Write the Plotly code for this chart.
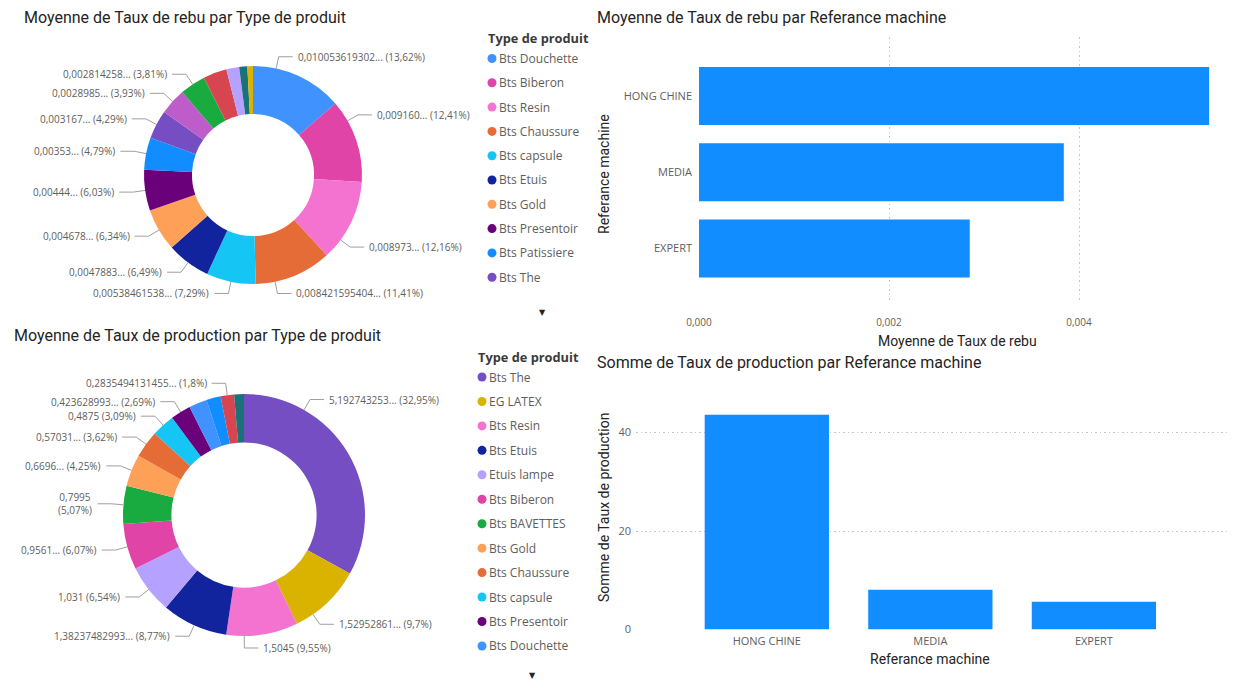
import math
import plotly.graph_objects as go

# the page body keeps its default 8px margin, so the figure is drawn
# 8px in from the top-left corner of the 1245x682 window
OX, OY = 8, 8
W, H = 1245 - OX, 682 - OY

# -------------------------------------------------
# Data
# -------------------------------------------------
# colours are keyed by product type, like the report theme
type_colors = {
    "Bts Douchette": "#4092FF",
    "Bts Biberon": "#E044A7",
    "Bts Resin": "#F472D0",
    "Bts Chaussure": "#E66C37",
    "Bts capsule": "#15C6F4",
    "Bts Etuis": "#12239E",
    "Bts Gold": "#FFA058",
    "Bts Presentoir": "#6B007B",
    "Bts Patissiere": "#118DFF",
    "Bts The": "#744EC2",
    "Autre 1": "#BE5DC9",
    "Bts BAVETTES": "#1AAB40",
    "Autre 2": "#D64550",
    "Etuis lampe": "#B5A1FF",
    "Autre 3": "#197278",
    "EG LATEX": "#D9B300",
}

rebu_types = ["Bts Douchette", "Bts Biberon", "Bts Resin", "Bts Chaussure",
              "Bts capsule", "Bts Etuis", "Bts Gold", "Bts Presentoir",
              "Bts Patissiere", "Bts The", "Autre 1", "Bts BAVETTES",
              "Autre 2", "Etuis lampe", "Autre 3", "EG LATEX"]
rebu_values = [0.010053619302, 0.009160, 0.008973, 0.008421595404,
               0.00538461538, 0.0047883, 0.004678, 0.00444,
               0.00353, 0.003167, 0.0028985, 0.002814258,
               0.002584, 0.001402, 0.000886, 0.000613]
rebu_texts = ["0,010053619302... (13,62%)", "0,009160... (12,41%)",
              "0,008973... (12,16%)", "0,008421595404... (11,41%)",
              "0,00538461538... (7,29%)", "0,0047883... (6,49%)",
              "0,004678... (6,34%)", "0,00444... (6,03%)",
              "0,00353... (4,79%)", "0,003167... (4,29%)",
              "0,0028985... (3,93%)", "0,002814258... (3,81%)",
              "", "", "", ""]

prod_types = ["Bts The", "EG LATEX", "Bts Resin", "Bts Etuis", "Etuis lampe",
              "Bts Biberon", "Bts BAVETTES", "Bts Gold", "Bts Chaussure",
              "Bts capsule", "Bts Presentoir", "Bts Douchette",
              "Bts Patissiere", "Autre 2", "Autre 3"]
prod_values = [5.192743253, 1.52952861, 1.5045, 1.38237482993, 1.031,
               0.9561, 0.7995, 0.6696, 0.57031,
               0.4875, 0.423628993, 0.378,
               0.30, 0.2835494131455, 0.205]
prod_texts = ["5,192743253... (32,95%)", "1,52952861... (9,7%)",
              "1,5045 (9,55%)", "1,38237482993... (8,77%)", "1,031 (6,54%)",
              "0,9561... (6,07%)", "0,7995<br>(5,07%)", "0,6696... (4,25%)",
              "0,57031... (3,62%)", "0,4875 (3,09%)",
              "0,423628993... (2,69%)", "", "",
              "0,2835494131455... (1,8%)", ""]

legend1_shown = 10
legend2_shown = 12

machines = ["HONG CHINE", "MEDIA", "EXPERT"]
rebu_machine = [0.00537, 0.00384, 0.00285]
prod_machine = [43.6, 8.07, 5.63]

BLUE = "#118DFF"
TXT = "#252423"
GREY = "#605E5C"
TITLE_FONT = "Roboto"
BODY_FONT = "Open Sans"


def px(x):
    return (x - OX) / W


def py(y):
    return 1 - (y - OY) / H


fig = go.Figure()
annotations = []
shapes = []


# -------------------------------------------------
# Donuts
# -------------------------------------------------
def add_donut(types, values, texts, cx, cy, R, hole):
    fig.add_trace(go.Pie(
        labels=types, values=values, hole=hole, sort=False,
        direction="clockwise", rotation=0, textinfo="none",
        marker=dict(colors=[type_colors[t] for t in types], line=dict(width=0)),
        domain=dict(x=[px(cx - R), px(cx + R)], y=[py(cy + R), py(cy - R)]),
        showlegend=False,
    ))

    # outside labels with leader lines, placed from the slice angles
    total = sum(values)
    start = 0.0
    for v, t in zip(values, texts):
        span = 360.0 * v / total
        mid = start + span / 2
        if t:
            if mid < 180:
                a = start + span * (0.25 if mid < 90 else 0.75)
            else:
                a = mid
            s, c = math.sin(math.radians(a)), math.cos(math.radians(a))
            x0, y0 = cx + R * s, cy - R * c
            ex, ey = cx + (R + 12) * s, cy - (R + 12) * c
            side = 1 if s >= 0 else -1
            hx = ex + 14 * side
            shapes.append(dict(
                type="path", xref="paper", yref="paper",
                path=f"M {px(x0)} {py(y0)} L {px(ex)} {py(ey)} L {px(hx)} {py(ey)}",
                line=dict(color="#A19F9D", width=1),
            ))
            annotations.append(dict(
                x=px(hx + 3 * side), y=py(ey), xref="paper", yref="paper",
                text=t, showarrow=False, align="center",
                xanchor="left" if side > 0 else "right", yanchor="middle",
                font=dict(family=BODY_FONT, size=10, color=GREY),
            ))
        start += span


def add_legend(items, x_dot, y_title, y_first, step, y_arrow, x_arrow):
    annotations.append(dict(
        x=px(x_dot - 6), y=py(y_title), xref="paper", yref="paper",
        text="<b>Type de produit</b>", showarrow=False,
        xanchor="left", yanchor="middle",
        font=dict(family=BODY_FONT, size=12.8, color="#3B3A39"),
    ))
    for i, name in enumerate(items):
        y = y_first + i * step
        shapes.append(dict(
            type="circle", xref="paper", yref="paper",
            x0=px(x_dot - 4.5), x1=px(x_dot + 4.5),
            y0=py(y + 4.5), y1=py(y - 4.5),
            fillcolor=type_colors[name], line=dict(width=0),
        ))
        annotations.append(dict(
            x=px(x_dot + 5), y=py(y), xref="paper", yref="paper",
            text=name, showarrow=False, xanchor="left", yanchor="middle",
            font=dict(family=BODY_FONT, size=12, color=GREY),
        ))
    annotations.append(dict(
        x=px(x_arrow), y=py(y_arrow), xref="paper", yref="paper",
        text="▼", showarrow=False, xanchor="center", yanchor="middle",
        font=dict(family="DejaVu Sans", size=8, color=TXT),
    ))


add_donut(rebu_types, rebu_values, rebu_texts, 253, 175, 109, 0.56)
add_donut(prod_types, prod_values, prod_texts, 244, 515, 121, 0.6)

add_legend(rebu_types[:legend1_shown], 492, 38, 58.5, 24.3, 312, 542)
add_legend(prod_types[:legend2_shown], 482, 357, 377, 24.45, 675, 532)

# -------------------------------------------------
# Bars
# -------------------------------------------------
fig.add_trace(go.Bar(
    x=rebu_machine, y=machines, orientation="h",
    marker=dict(color=BLUE, line=dict(width=0)),
    xaxis="x", yaxis="y", showlegend=False,
))
fig.add_trace(go.Bar(
    x=machines, y=prod_machine,
    marker=dict(color=BLUE, line=dict(width=0)),
    xaxis="x2", yaxis="y2", showlegend=False,
))

# titles
for text, x, y in [
    ("Moyenne de Taux de rebu par Type de produit", 22, 18),
    ("Moyenne de Taux de production par Type de produit", 12, 335),
    ("Moyenne de Taux de rebu par Referance machine", 595, 18),
    ("Somme de Taux de production par Referance machine", 595, 362),
]:
    annotations.append(dict(
        x=px(x), y=py(y), xref="paper", yref="paper", text=text,
        showarrow=False, xanchor="left", yanchor="middle",
        font=dict(family=TITLE_FONT, size=16, color=TXT),
    ))

# axis titles
for text, x, y, ang in [
    ("Moyenne de Taux de rebu", 957, 341, 0),
    ("Referance machine", 604, 174, -90),
    ("Referance machine", 930, 659, 0),
    ("Somme de Taux de production", 604, 507, -90),
]:
    annotations.append(dict(
        x=px(x), y=py(y), xref="paper", yref="paper", text=text,
        showarrow=False, xanchor="center", yanchor="middle", textangle=ang,
        font=dict(family=TITLE_FONT, size=14, color=TXT),
    ))

tick_font = dict(family=BODY_FONT, size=11, color=GREY)
GRID_DASH = "1.5px,3px"

fig.update_layout(
    width=W, height=H,
    margin=dict(l=0, r=0, t=0, b=0, pad=0, autoexpand=False),
    paper_bgcolor="white", plot_bgcolor="white",
    separators=", ",
    bargap=0.24,
    annotations=annotations,
    shapes=shapes,
    xaxis=dict(
        domain=[px(699), px(1231)], anchor="y", automargin=False,
        range=[0, 0.0056], tickvals=[0, 0.002, 0.004], tickformat=".3f",
        showgrid=True, gridcolor="#C8C6C4", griddash=GRID_DASH, gridwidth=1,
        zeroline=False, showline=False, ticks="",
        tickfont=dict(family=BODY_FONT, size=10, color=GREY),
        ticklabelstandoff=15,
    ),
    yaxis=dict(
        domain=[py(300), py(37)], anchor="x", automargin=False,
        type="category", categoryorder="array", categoryarray=machines,
        range=[2.675, -0.774],
        showgrid=False, zeroline=False, showline=False, ticks="",
        tickfont=tick_font, ticklabelstandoff=6,
    ),
    xaxis2=dict(
        domain=[px(636), px(1228)], anchor="y2", automargin=False,
        type="category", categoryorder="array", categoryarray=machines,
        range=[-0.80, 2.82],
        showgrid=False, zeroline=False, showline=False, ticks="",
        tickfont=tick_font, ticklabelstandoff=3,
    ),
    yaxis2=dict(
        domain=[py(629.6), py(405)], anchor="x2", automargin=False,
        range=[0, 45.6], tickvals=[0, 20, 40],
        showgrid=True, gridcolor="#C8C6C4", griddash=GRID_DASH, gridwidth=1,
        zeroline=False, showline=False, ticks="",
        tickfont=dict(family=BODY_FONT, size=11, color=GREY),
        ticklabelstandoff=4,
    ),
)

fig.write_html("out.html")
